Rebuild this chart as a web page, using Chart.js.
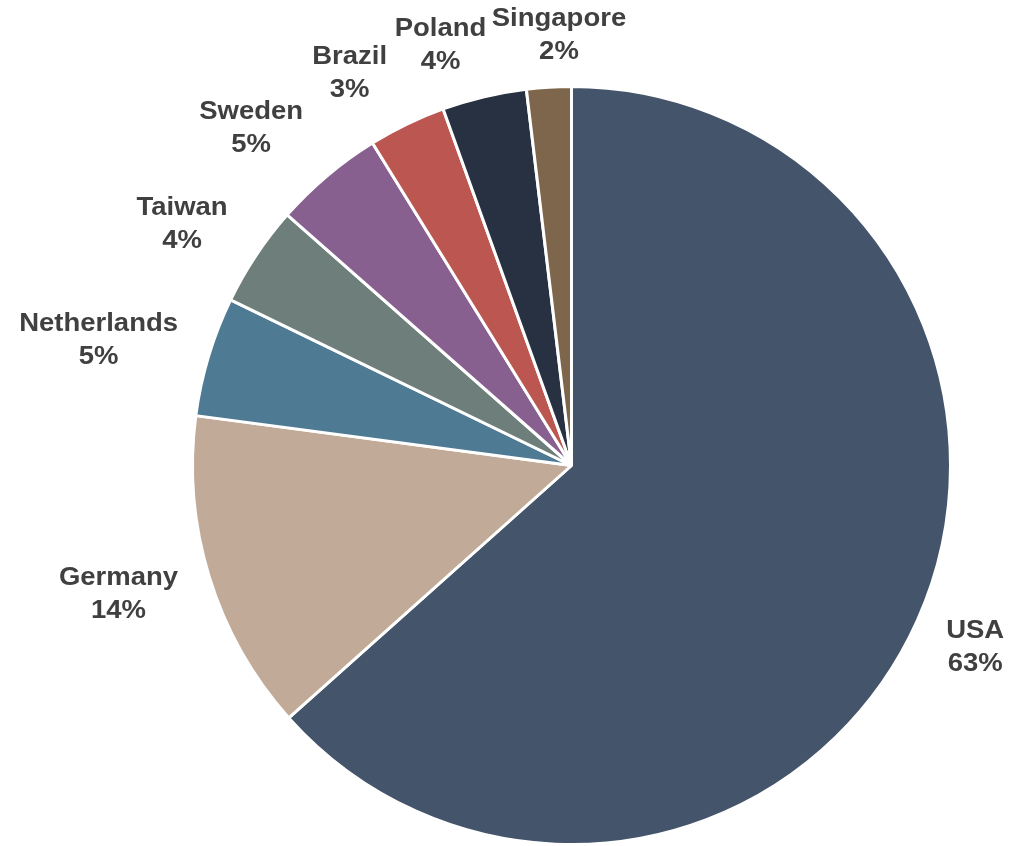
<!DOCTYPE html>
<html>
<head>
<meta charset="utf-8">
<script src="https://cdn.jsdelivr.net/npm/chart.js@4"></script>
<style>
  html, body { margin: 0; padding: 0; background: #ffffff; }
  #wrap { width: 1012px; height: 846px; }
</style>
</head>
<body>
<div id="wrap"><canvas id="c" width="1012" height="846"></canvas></div>
<script>
const categories = ["USA", "Germany", "Netherlands", "Taiwan", "Sweden", "Brazil", "Poland", "Singapore"];
const shares = [63.4, 13.7, 5.1, 4.3, 4.7, 3.3, 3.6, 1.9];
const sliceColors = ["#44546A", "#C1AB98", "#4E7B93", "#6D7E7B", "#87608F", "#BB5650", "#283142", "#7E664C"];

// label placement relative to each slice's mid-angle: angle nudge (deg) and distance beyond the rim (px)
const labelAngleNudge = [0.2, 1.2, -2.0, -1.9, -3.4, -3.8, -4.0, 1.75];
const labelRimOffset = [64, 92, 110, 79, 86, 71, 61, 51];

const labelFont = "bold 25px 'Liberation Sans', Arial, sans-serif";
const labelColor = "#404040";
const lineHeight = 33;
const labelStretch = 1.1;

const outsideLabels = {
  id: "outsideLabels",
  afterDraw(chart) {
    const ctx = chart.ctx;
    const meta = chart.getDatasetMeta(0);
    const total = shares.reduce((a, b) => a + b, 0);
    ctx.save();
    ctx.font = labelFont;
    ctx.fillStyle = labelColor;
    ctx.textAlign = "center";
    ctx.textBaseline = "middle";
    meta.data.forEach((arc, i) => {
      const p = arc.getProps(["x", "y", "startAngle", "endAngle", "outerRadius"], true);
      const mid = (p.startAngle + p.endAngle) / 2 + labelAngleNudge[i] * Math.PI / 180;
      const d = p.outerRadius + labelRimOffset[i];
      const cx = p.x + Math.cos(mid) * d;
      const cy = p.y + Math.sin(mid) * d;
      const lines = [categories[i], Math.round(shares[i] / total * 100) + "%"];
      const h = lineHeight * lines.length;
      lines.forEach((t, k) => {
        ctx.save();
        ctx.translate(cx, cy - h / 2 + lineHeight * (k + 0.5));
        ctx.scale(labelStretch, 1);
        ctx.fillText(t, 0, 0);
        ctx.restore();
      });
    });
    ctx.restore();
  }
};

new Chart(document.getElementById("c"), {
  type: "pie",
  data: {
    labels: categories,
    datasets: [{
      data: shares,
      backgroundColor: sliceColors,
      borderColor: "#ffffff",
      borderWidth: 3
    }]
  },
  options: {
    responsive: false,
    devicePixelRatio: 1,
    animation: false,
    layout: { padding: { top: 85, bottom: 0, left: 191, right: 60 } },
    plugins: {
      legend: { display: false },
      tooltip: { enabled: false }
    }
  },
  plugins: [outsideLabels]
});
</script>
</body>
</html>
